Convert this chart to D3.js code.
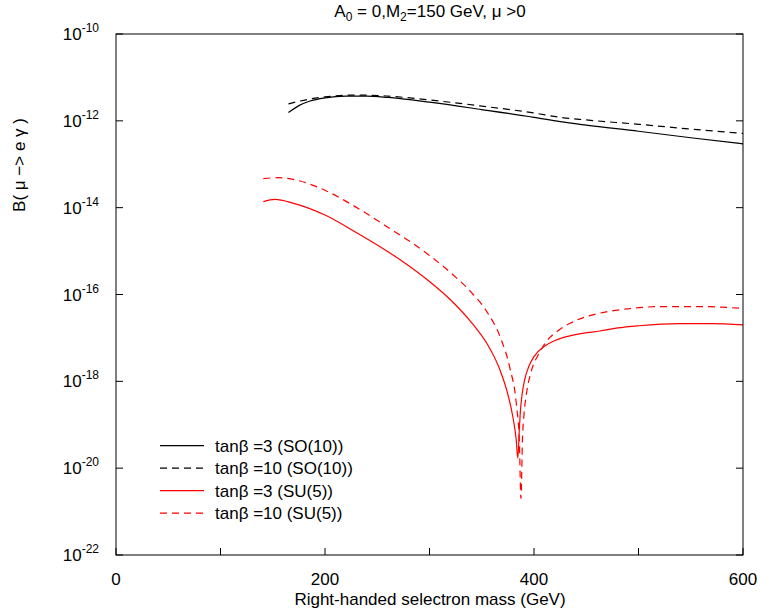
<!DOCTYPE html>
<html><head><meta charset="utf-8">
<script src="https://cdn.jsdelivr.net/npm/d3@7"></script>
<style>body{margin:0;background:#fff}svg{display:block;font-family:"Liberation Sans",Arial,sans-serif}</style>
</head><body><svg id="c" width="761" height="610"></svg>
<script>
// masses (GeV) and log10 of branching ratio
const so10_t3_m   = [165,175,185,200,220,240,260,300,350,400,425,450,500,550,600];
const so10_t3_lg  = [-11.81,-11.65,-11.55,-11.47,-11.43,-11.43,-11.46,-11.57,-11.74,-11.92,-12.02,-12.10,-12.24,-12.39,-12.53];
const so10_t10_m  = [165,175,185,200,220,240,260,300,350,400,425,450,500,550,600];
const so10_t10_lg = [-11.61,-11.55,-11.50,-11.45,-11.41,-11.41,-11.43,-11.52,-11.66,-11.82,-11.92,-11.98,-12.08,-12.19,-12.29];
const su5_t3_m    = [141,152,170,200,227,250,275,300,320,340,355,367,375,380,383,384.5,386,387,388.5,391,395,400,410,420,431,445,463,480,500,540,570,600];
const su5_t3_lg   = [-13.86,-13.81,-13.90,-14.17,-14.53,-14.86,-15.25,-15.70,-16.12,-16.64,-17.13,-17.71,-18.3,-18.85,-19.35,-19.77,-19.09,-18.68,-18.32,-17.97,-17.66,-17.43,-17.19,-17.06,-16.97,-16.90,-16.84,-16.77,-16.72,-16.67,-16.67,-16.70];
const su5_t10_m   = [141,155,175,200,227,260,300,325,340,355,368,377,383,386,387.5,389,390.5,393,397,405,413,425,440,463,490,520,560,600];
const su5_t10_lg  = [-13.33,-13.31,-13.38,-13.6,-13.95,-14.45,-15.1,-15.6,-15.95,-16.4,-17.0,-17.7,-18.5,-19.4,-20.7,-19.3,-18.75,-18.25,-17.8,-17.35,-17.05,-16.8,-16.6,-16.43,-16.33,-16.28,-16.28,-16.32];
const legendLabels = ["tanβ =3 (SO(10))","tanβ =10 (SO(10))","tanβ =3 (SU(5))","tanβ =10 (SU(5))"];
const xTicks = [0,100,200,300,400,500,600];
const xTickLabels = [0,200,400,600];
const yExps = [-10,-12,-14,-16,-18,-20,-22];

const svg = d3.select("#c");
const L=116,R=743,T=34,B=555;
const x = d3.scaleLinear().domain([0,600]).range([L,R]);
const y = d3.scaleLog().domain([1e-22,1e-10]).range([B,T]);
const FS = 17;

const series = [
  {m:so10_t3_m, lg:so10_t3_lg, color:"#000", dash:null},
  {m:so10_t10_m, lg:so10_t10_lg, color:"#000", dash:"7,5"},
  {m:su5_t3_m, lg:su5_t3_lg, color:"#ff0000", dash:null},
  {m:su5_t10_m, lg:su5_t10_lg, color:"#ff0000", dash:"7,5"}
];

const line = d3.line().x(d=>x(d[0])).y(d=>y(d[1])).curve(d3.curveMonotoneX);
series.forEach(s=>{
  const pts = s.m.map((m,i)=>[m, Math.pow(10,s.lg[i])]);
  svg.append("path").attr("d",line(pts)).attr("fill","none")
    .attr("stroke",s.color).attr("stroke-width",1.2)
    .attr("stroke-dasharray",s.dash);
});

// frame
svg.append("rect").attr("x",L).attr("y",T).attr("width",R-L).attr("height",B-T)
  .attr("fill","none").attr("stroke","#000").attr("stroke-width",1);

// x ticks
const tl=7;
xTicks.forEach(v=>{
  svg.append("line").attr("x1",x(v)).attr("x2",x(v)).attr("y1",B).attr("y2",B-tl).attr("stroke","#000");
});
xTickLabels.forEach(v=>{
  svg.append("text").attr("x",x(v)).attr("y",585).attr("text-anchor","middle")
    .attr("font-size",FS).text(v);
});
// y ticks
yExps.forEach(e=>{
  const yy = y(Math.pow(10,e));
  svg.append("line").attr("x1",L).attr("x2",L+tl).attr("y1",yy).attr("y2",yy).attr("stroke","#000");
  svg.append("line").attr("x1",R).attr("x2",R-tl).attr("y1",yy).attr("y2",yy).attr("stroke","#000");
  const t = svg.append("text").attr("x",99).attr("y",yy+6).attr("text-anchor","end").attr("font-size",FS);
  t.append("tspan").text("10");
  t.append("tspan").attr("font-size",12).attr("dy",-8).text(e);
});

// title
const title = svg.append("text").attr("x",430).attr("y",17).attr("text-anchor","middle").attr("font-size",FS);
title.append("tspan").text("A");
title.append("tspan").attr("font-size",12).attr("dy",4).text("0");
title.append("tspan").attr("dy",-4).text(" = 0,M");
title.append("tspan").attr("font-size",12).attr("dy",4).text("2");
title.append("tspan").attr("dy",-4).text("=150 GeV, μ >0");

// axis labels
svg.append("text").attr("x",430).attr("y",605).attr("text-anchor","middle").attr("font-size",FS)
  .text("Right-handed selectron mass (GeV)");
svg.append("text").attr("transform","translate(25,165) rotate(-90)").attr("text-anchor","middle")
  .attr("font-size",FS).text("B( μ −> e γ )");

// legend
legendLabels.forEach((lab,i)=>{
  const yy = 445.7 + i*22.5;
  const s = series[i];
  svg.append("line").attr("x1",160).attr("x2",204).attr("y1",yy).attr("y2",yy)
    .attr("stroke",s.color).attr("stroke-width",1.2).attr("stroke-dasharray",s.dash);
  svg.append("text").attr("x",215).attr("y",yy+6).attr("font-size",FS).text(lab);
});
</script></body></html>
